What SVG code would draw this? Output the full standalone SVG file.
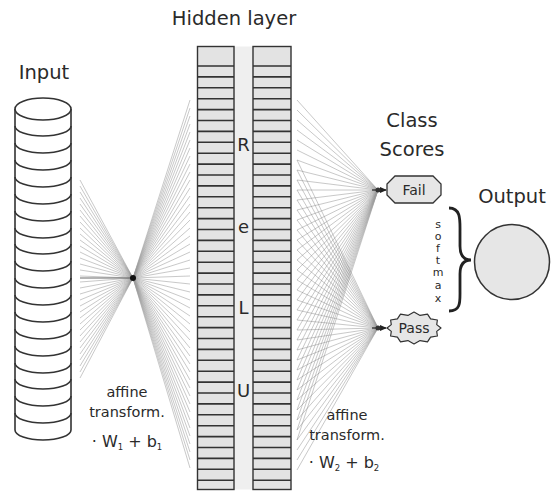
<svg xmlns="http://www.w3.org/2000/svg" width="554" height="492" viewBox="0 0 554 492">
<style>
text{font-family:"DejaVu Sans","Liberation Sans",sans-serif;fill:#2a2a2a}
.t{font-size:19.5px;text-anchor:middle}
.s{font-size:14.5px;text-anchor:middle}
.c{stroke:#333;stroke-width:1.6;fill:none}
.f1{stroke:#7a7a7a;stroke-width:0.55;opacity:0.75}
.row{stroke:#333;stroke-width:1.6}
</style>
<defs>
<marker id="ah" markerWidth="8" markerHeight="8" refX="6" refY="4" orient="auto" markerUnits="userSpaceOnUse">
<path d="M0,1 L7,4 L0,7 Z" fill="#222"/>
</marker>
</defs>
<rect width="554" height="492" fill="#fff"/>

<g id="connectors">
<g id="fan1">
<path class="f1" d="M80,180L133,278M80,186L133,278M80,192L133,278M80,198L133,278M80,204L133,278M80,210L133,278M80,216L133,278M80,222L133,278M80,228L133,278M80,234L133,278M80,240L133,278M80,246L133,278M80,252L133,278M80,258L133,278M80,264L133,278M80,270L133,278M80,276L133,278M80,282L133,278M80,288L133,278M80,294L133,278M80,300L133,278M80,306L133,278M80,312L133,278M80,318L133,278M80,324L133,278M80,330L133,278M80,336L133,278M80,342L133,278M80,348L133,278M80,354L133,278M80,360L133,278M80,366L133,278M80,372L133,278M80,378L133,278"/>
<path d="M80,278L133,278" stroke="#444" stroke-width="0.8"/>
<path class="f1" d="M133,278L190,100M133,278L190,108M133,278L190,116M133,278L190,124M133,278L190,132M133,278L190,140M133,278L190,148M133,278L190,156M133,278L190,164M133,278L190,172M133,278L190,180M133,278L190,188M133,278L190,196M133,278L190,204M133,278L190,212M133,278L190,220M133,278L190,228M133,278L190,236M133,278L190,244M133,278L190,252M133,278L190,260M133,278L190,268M133,278L190,276M133,278L190,284M133,278L190,292M133,278L190,300M133,278L190,308M133,278L190,316M133,278L190,324M133,278L190,332M133,278L190,340M133,278L190,348M133,278L190,356M133,278L190,364M133,278L190,372M133,278L190,380M133,278L190,388M133,278L190,396M133,278L190,404M133,278L190,412M133,278L190,420M133,278L190,428M133,278L190,436M133,278L190,444M133,278L190,452M133,278L190,460M133,278L190,468"/>
<circle cx="133" cy="278" r="3" fill="#111"/>
</g>
<g id="fan2">
<path class="f1" d="M297,100L378,190M297,110L378,190M297,120L378,190M297,130L378,190M297,140L378,190M297,150L378,190M297,160L378,190M297,170L378,190M297,180L378,190M297,190L378,190M297,200L378,190M297,210L378,190M297,220L378,190M297,230L378,190M297,240L378,190M297,250L378,190M297,260L378,190M297,270L378,190M297,280L378,190M297,290L378,190M297,300L378,190M297,310L378,190M297,320L378,190M297,330L378,190M297,340L378,190M297,350L378,190M297,360L378,190M297,370L378,190M297,380L378,190M297,390L378,190M297,400L378,190M297,410L378,190M297,420L378,190M297,430L378,190M297,440L378,190"/>
<path class="f1" d="M297,160L378,328M297,170L378,328M297,180L378,328M297,190L378,328M297,200L378,328M297,210L378,328M297,220L378,328M297,230L378,328M297,240L378,328M297,250L378,328M297,260L378,328M297,270L378,328M297,280L378,328M297,290L378,328M297,300L378,328M297,310L378,328M297,320L378,328M297,330L378,328M297,340L378,328M297,350L378,328M297,360L378,328M297,370L378,328M297,380L378,328M297,390L378,328M297,400L378,328M297,410L378,328M297,420L378,328M297,430L378,328M297,440L378,328M297,450L378,328M297,460L378,328M297,470L378,328"/>
<path d="M372,190L386,190" stroke="#222" stroke-width="1.2" marker-end="url(#ah)"/>
<path d="M372,328L386,328" stroke="#222" stroke-width="1.2" marker-end="url(#ah)"/>
<circle cx="378" cy="190" r="2.5" fill="#333"/>
<circle cx="378" cy="328" r="2.5" fill="#333"/>
</g>
<path id="brace" d="M449,208 C461,208 460,220 460,232 L460,246 C460,256 464,260 471,260 C464,260 460,264 460,274 L460,290 C460,302 461,311 449,311" fill="none" stroke="#222" stroke-width="2.8"/>
</g>

<g id="input">
<text class="t" x="44" y="79">Input</text>
<path d="M15,109 L15,430 A28,10 0 0 0 71,430 L71,109" fill="#fff" stroke="#333" stroke-width="1.6"/>
<ellipse cx="43" cy="109" rx="28" ry="11" fill="#fff" stroke="#333" stroke-width="1.6"/>
<path class="c" d="M15,126A28,10 0 0 0 71,126M15,143A28,10 0 0 0 71,143M15,160A28,10 0 0 0 71,160M15,177A28,10 0 0 0 71,177M15,194A28,10 0 0 0 71,194M15,211A28,10 0 0 0 71,211M15,228A28,10 0 0 0 71,228M15,244A28,10 0 0 0 71,244M15,261A28,10 0 0 0 71,261M15,278A28,10 0 0 0 71,278M15,295A28,10 0 0 0 71,295M15,312A28,10 0 0 0 71,312M15,329A28,10 0 0 0 71,329M15,346A28,10 0 0 0 71,346M15,363A28,10 0 0 0 71,363M15,379A28,10 0 0 0 71,379M15,396A28,10 0 0 0 71,396M15,413A28,10 0 0 0 71,413"/>
</g>

<g id="hidden">
<text class="t" x="234" y="25">Hidden layer</text>
<rect x="234" y="46.5" width="19" height="443" fill="#efefef"/>
<rect x="197.5" y="46.5" width="36.5" height="443" fill="#e3e3e3" stroke="#333" stroke-width="1.4"/>
<rect x="253" y="46.5" width="38" height="443" fill="#e3e3e3" stroke="#333" stroke-width="1.4"/>
<path class="row" d="M197.5,66H234M253,66H291M197.5,76.9H234M253,76.9H291M197.5,87.8H234M253,87.8H291M197.5,98.7H234M253,98.7H291M197.5,109.6H234M253,109.6H291M197.5,120.5H234M253,120.5H291M197.5,131.4H234M253,131.4H291M197.5,142.3H234M253,142.3H291M197.5,153.2H234M253,153.2H291M197.5,164.1H234M253,164.1H291M197.5,175H234M253,175H291M197.5,185.9H234M253,185.9H291M197.5,196.8H234M253,196.8H291M197.5,207.7H234M253,207.7H291M197.5,218.6H234M253,218.6H291M197.5,229.5H234M253,229.5H291M197.5,240.4H234M253,240.4H291M197.5,251.3H234M253,251.3H291M197.5,262.2H234M253,262.2H291M197.5,273.1H234M253,273.1H291M197.5,284H234M253,284H291M197.5,294.9H234M253,294.9H291M197.5,305.8H234M253,305.8H291M197.5,316.7H234M253,316.7H291M197.5,327.6H234M253,327.6H291M197.5,338.5H234M253,338.5H291M197.5,349.4H234M253,349.4H291M197.5,360.3H234M253,360.3H291M197.5,371.2H234M253,371.2H291M197.5,382.1H234M253,382.1H291M197.5,393H234M253,393H291M197.5,403.9H234M253,403.9H291M197.5,414.8H234M253,414.8H291M197.5,425.7H234M253,425.7H291M197.5,436.6H234M253,436.6H291M197.5,447.5H234M253,447.5H291M197.5,458.4H234M253,458.4H291M197.5,469.3H234M253,469.3H291M197.5,480.2H234M253,480.2H291"/>
<text class="t" x="243.5" y="151" style="font-size:18px">R</text>
<text class="t" x="243.5" y="233" style="font-size:18px">e</text>
<text class="t" x="243.5" y="314" style="font-size:18px">L</text>
<text class="t" x="243.5" y="397" style="font-size:18px">U</text>
</g>

<g id="label1">
<text class="s" x="127" y="397">affine</text>
<text class="s" x="127" y="417">transform.</text>
<text class="s" x="127" y="447" style="font-size:16px">· W<tspan font-size="8.5" dy="3">1</tspan><tspan dy="-3"> + b</tspan><tspan font-size="8.5" dy="3">1</tspan></text>
</g>

<g id="label2">
<text class="s" x="347" y="420">affine</text>
<text class="s" x="347" y="440">transform.</text>
<text class="s" x="344" y="468" style="font-size:16px">· W<tspan font-size="8.5" dy="3">2</tspan><tspan dy="-3"> + b</tspan><tspan font-size="8.5" dy="3">2</tspan></text>
</g>

<g id="class-scores">
<text class="t" x="412" y="127">Class</text>
<text class="t" x="412" y="156">Scores</text>
</g>

<g id="fail">
<polygon points="395,176 433,176 441,184 441,195 433,203 395,203 387,195 387,184" fill="#e6e6e6" stroke="#333" stroke-width="1.3"/>
<text x="414" y="195" style="font-size:14px;text-anchor:middle">Fail</text>
</g>

<g id="pass">
<polygon points="441,328 436.7,331.4 437.4,336 430.6,337.2 427.5,341.9 420.1,340.6 414,344 407.9,340.6 400.5,341.9 397.4,337.2 390.6,336 391.3,331.4 387,328 391.3,324.6 390.6,320 397.4,318.8 400.5,314.1 407.9,315.4 414,312 420.1,315.4 427.5,314.1 430.6,318.8 437.4,320 436.7,324.6" fill="#e6e6e6" stroke="#333" stroke-width="1.2" stroke-linejoin="round"/>
<text x="414" y="333" style="font-size:14px;text-anchor:middle">Pass</text>
</g>

<g id="softmax">
<text x="438" y="228" style="font-size:11px;text-anchor:middle">s</text>
<text x="438" y="240" style="font-size:11px;text-anchor:middle">o</text>
<text x="438" y="252" style="font-size:11px;text-anchor:middle">f</text>
<text x="438" y="264" style="font-size:11px;text-anchor:middle">t</text>
<text x="438" y="276" style="font-size:11px;text-anchor:middle">m</text>
<text x="438" y="289" style="font-size:11px;text-anchor:middle">a</text>
<text x="438" y="302" style="font-size:11px;text-anchor:middle">x</text>
</g>

<g id="output">
<text class="t" x="512" y="203">Output</text>
<circle cx="512" cy="262" r="37.5" fill="#e6e6e6" stroke="#333" stroke-width="1.5"/>
</g>
</svg>
